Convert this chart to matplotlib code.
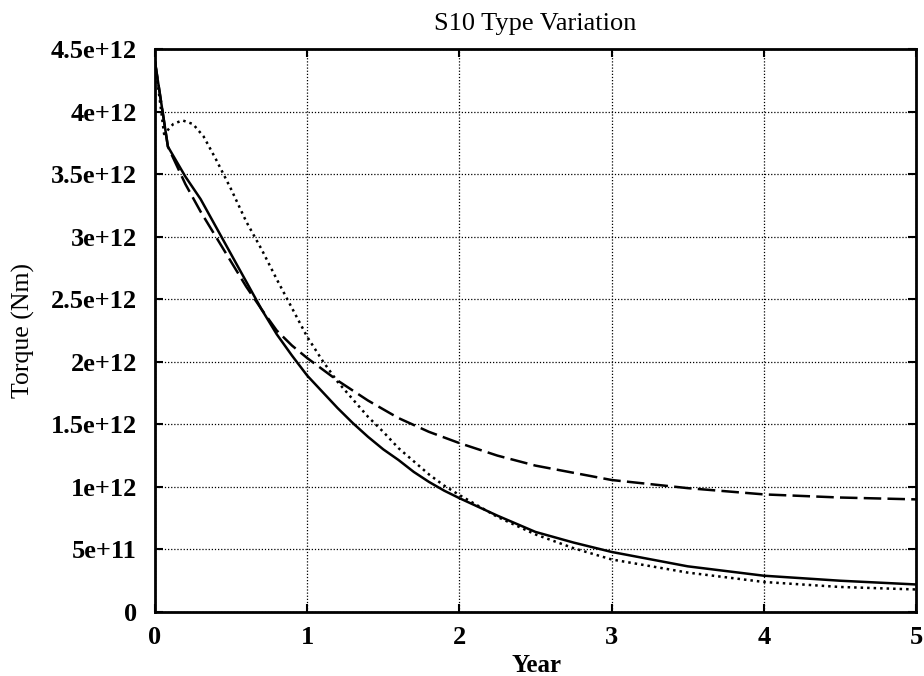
import matplotlib
matplotlib.use("Agg")
import matplotlib.pyplot as plt
import numpy as np

title = "S10 Type Variation"
xlabel = "Year"
ylabel = "Torque (Nm)"

x_ticks = [0, 1, 2, 3, 4, 5]
y_ticks = [0, 0.5e12, 1e12, 1.5e12, 2e12, 2.5e12, 3e12, 3.5e12, 4e12, 4.5e12]
y_tick_labels = ["0", "5e+11", "1e+12", "1.5e+12", "2e+12", "2.5e+12",
                 "3e+12", "3.5e+12", "4e+12", "4.5e+12"]

solid_x = [0, 0.085, 0.2, 0.3, 0.4, 0.5, 0.6, 0.7, 0.8, 0.9, 1.0, 1.1, 1.2,
           1.3, 1.4, 1.5, 1.6, 1.7, 1.8, 1.9, 2.0, 2.25, 2.5, 2.75, 3.0, 3.5,
           4.0, 4.5, 5.0]
solid_y = [4.4, 3.72, 3.48, 3.30, 3.08, 2.86, 2.64, 2.42, 2.22, 2.05, 1.89,
           1.76, 1.63, 1.51, 1.40, 1.30, 1.215, 1.12, 1.04, 0.97, 0.91, 0.77,
           0.64, 0.555, 0.48, 0.365, 0.29, 0.25, 0.22]

dashed_x = [0, 0.085, 0.2, 0.3, 0.4, 0.5, 0.6, 0.7, 0.8, 0.9, 1.0, 1.2, 1.4,
            1.6, 1.8, 2.0, 2.25, 2.5, 3.0, 3.5, 4.0, 4.5, 5.0]
dashed_y = [4.4, 3.72, 3.42, 3.2, 3.0, 2.80, 2.6, 2.42, 2.25, 2.13, 2.03, 1.85,
            1.69, 1.55, 1.44, 1.35, 1.25, 1.17, 1.055, 0.99, 0.94, 0.915, 0.90]

dotted_x = [0, 0.06, 0.12, 0.18, 0.25, 0.32, 0.4, 0.5, 0.6, 0.7, 0.8, 0.9, 1.0,
            1.1, 1.2, 1.3, 1.4, 1.5, 1.6, 1.8, 1.9, 2.0, 2.25, 2.5, 2.75, 3.0,
            3.5, 4.0, 4.5, 5.0]
dotted_y = [4.4, 3.82, 3.90, 3.93, 3.90, 3.80, 3.62, 3.38, 3.12, 2.90, 2.66,
            2.43, 2.20, 2.01, 1.84, 1.70, 1.56, 1.44, 1.31, 1.10, 1.01, 0.935,
            0.76, 0.62, 0.51, 0.42, 0.315, 0.24, 0.20, 0.18]

scale = 1e12

plt.rcParams['font.family'] = ['Liberation Serif', 'DejaVu Serif']

fig = plt.figure(figsize=(9.24, 6.76), dpi=100)
ax = fig.add_axes([0.1677, 0.0947, 0.8236, 0.8328])

ax.plot(solid_x, np.array(solid_y) * scale, color='black', lw=1.8, ls='-')
ax.plot(dashed_x, np.array(dashed_y) * scale, color='black', lw=1.8,
        ls=(0, (7, 2.5)))
ax.plot(dotted_x, np.array(dotted_y) * scale, color='black', lw=1.8,
        ls=(0, (1, 1.6)))

ax.set_xlim(0, 5)
ax.set_ylim(0, 4.5e12)
ax.set_xticks(x_ticks)
ax.set_xticklabels([str(t) for t in x_ticks], fontsize=19, fontweight='bold')
ax.set_yticks(y_ticks)
ax.set_yticklabels(y_tick_labels, fontsize=19, fontweight='bold')

ax.grid(True, color='black', ls=(0, (1, 1.5)), lw=0.9)
ax.tick_params(direction='in', length=6, width=1.5, top=True, right=True)
ax.tick_params(axis='y', pad=13)
ax.tick_params(axis='x', pad=10)
for s in ax.spines.values():
    s.set_linewidth(2)

ax.set_title(title, fontsize=19, pad=14)
ax.set_xlabel(xlabel, fontsize=18, fontweight='bold', va='center')
ax.xaxis.set_label_coords((537 - 155) / 761, (612 - 666) / 563)
ax.set_ylabel(ylabel, fontsize=18.5, va='center')
ax.yaxis.set_label_coords((23 - 155) / 761, (612 - 331) / 563)

fig.savefig("out.png", dpi=100)
